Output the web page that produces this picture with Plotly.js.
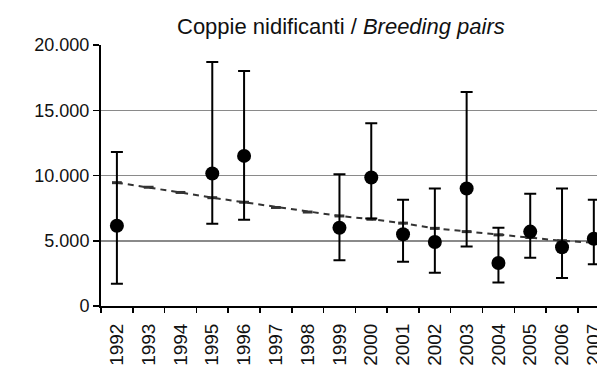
<!DOCTYPE html>
<html>
<head>
<meta charset="utf-8">
<script src="https://cdn.plot.ly/plotly-3.0.1.min.js"></script>
<style>
  html, body { margin: 0; padding: 0; background: #fff; overflow: hidden; }
  #chart { width: 597px; height: 368px; }
</style>
</head>
<body>
<div id="chart"></div>
<script>
// Category axis (all years, including those without surveys)
const allYears = ["1992","1993","1994","1995","1996","1997","1998","1999","2000","2001","2002","2003","2004","2005","2006","2007"];

// Surveyed years: estimate of breeding pairs with confidence limits
const surveyYears = ["1992","1995","1996","1999","2000","2001","2002","2003","2004","2005","2006","2007"];
const pairs       = [6150, 10150, 11500, 6000, 9850, 5500, 4900, 9000, 3300, 5700, 4500, 5150];
const upperLimit  = [11800, 18700, 18000, 10100, 14000, 8150, 9000, 16400, 6000, 8600, 9000, 8150];
const lowerLimit  = [1700, 6300, 6600, 3500, 6700, 3400, 2550, 4550, 1800, 3700, 2150, 3200];

// Trend line (dashed) for every year
const trend = [9450, 9100, 8700, 8300, 7950, 7550, 7200, 6900, 6650, 6350, 5950, 5700, 5450, 5250, 5000, 4850];

const yTicks = [0, 5000, 10000, 15000, 20000];

const errPlus  = upperLimit.map((u, i) => u - pairs[i]);
const errMinus = pairs.map((v, i) => v - lowerLimit[i]);

const traces = [
  {
    type: "scatter",
    mode: "lines+markers",
    x: allYears,
    y: trend,
    line: { color: "#333333", width: 2, dash: "6px,5px" },
    marker: { symbol: "line-ew-open", size: 7, line: { color: "#111", width: 3 } },
    hoverinfo: "skip",
    showlegend: false
  },
  {
    type: "scatter",
    mode: "markers",
    x: surveyYears,
    y: pairs,
    marker: { color: "#000", size: 14, symbol: "circle" },
    error_y: {
      type: "data",
      symmetric: false,
      array: errPlus,
      arrayminus: errMinus,
      color: "#000",
      thickness: 2,
      width: 6
    },
    showlegend: false
  }
];

const layout = {
  width: 597,
  height: 368,
  margin: { l: 101, r: 0, t: 45, b: 62, pad: 0 },
  paper_bgcolor: "#fff",
  plot_bgcolor: "#fff",
  separators: ",.",
  font: { family: "Liberation Sans, Arial, sans-serif", color: "#111", size: 18 },
  title: {
    text: "Coppie nidificanti / <i>Breeding pairs</i>",
    font: { family: "Liberation Sans, Arial, sans-serif", size: 22, color: "#111" },
    xref: "container", x: 0.571, xanchor: "center",
    yref: "container", y: 0.929, yanchor: "middle"
  },
  xaxis: {
    type: "category",
    categoryorder: "array",
    categoryarray: allYears,
    tickvals: allYears,
    ticktext: allYears,
    range: [-0.5, 15.1],
    tickangle: -90,
    tickson: "boundaries",
    ticks: "outside",
    ticklen: 5,
    tickwidth: 1.5,
    tickcolor: "#000",
    ticklabelstandoff: 8,
    showline: true,
    linecolor: "#000",
    linewidth: 2,
    showgrid: false,
    zeroline: false,
    tickfont: { size: 19, color: "#111" }
  },
  yaxis: {
    range: [0, 20000],
    tickvals: yTicks,
    tickformat: ",d",
    ticks: "outside",
    ticklen: 6,
    tickwidth: 1.5,
    tickcolor: "#000",
    showline: true,
    linecolor: "#000",
    linewidth: 2,
    showgrid: true,
    gridcolor: "#8a8a8a",
    gridwidth: 1.5,
    zeroline: false,
    tickfont: { size: 18, color: "#111" }
  }
};

Plotly.newPlot("chart", traces, layout, { displayModeBar: false, staticPlot: true });
</script>
</body>
</html>
